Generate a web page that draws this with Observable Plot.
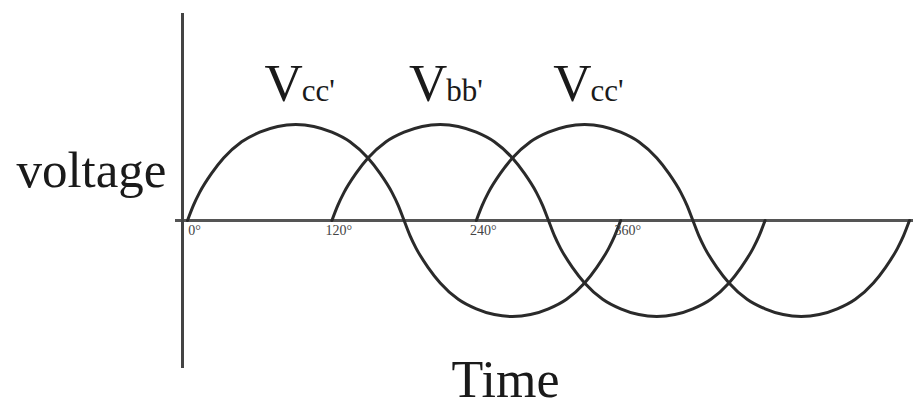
<!DOCTYPE html>
<html><head><meta charset="utf-8">
<script src="https://cdn.jsdelivr.net/npm/d3@7"></script>
<script src="https://cdn.jsdelivr.net/npm/@observablehq/plot@0.6"></script>
<style>html,body{margin:0;padding:0;background:#fff} svg{display:block}</style>
</head><body><div id="chart"></div>
<script>
// Data
const phases = [0, 120, 240];                 // start angle of each wave (degrees)
const waveLetter = "V";
const waveSubs = ["cc'", "bb'", "cc'"];       // label of each wave
const tickValues = [0, 120, 240, 360];
const tickLabels = ["0°", "120°", "240°", "360°"];
// shape of one cycle (offset in degrees -> normalized voltage)
const shapeOffsets = [0,5,10,20,30,45,60,75,90,105,120,135,150,160,170,175,180,185,190,200,210,225,240,255,270,285,300,315,330,340,350,355,360];
const shapeValues  = [0,0.16,0.29,0.49,0.65,0.82,0.92,0.98,1,0.98,0.92,0.82,0.65,0.49,0.29,0.16,0,-0.16,-0.29,-0.49,-0.65,-0.82,-0.92,-0.98,-1,-0.98,-0.92,-0.82,-0.65,-0.49,-0.29,-0.16,0];
const xDomain = [0, 600];
const yDomain = [-1, 1];
const xLabel = "Time";
const yLabel = "voltage";

const waves = phases.flatMap((p, i) => shapeOffsets.map((o, j) => ({wave: i, x: p + o, y: shapeValues[j]})));
const peakIdx = shapeValues.indexOf(d3.max(shapeValues));
const labels = phases.map((p, i) => ({x: p + shapeOffsets[peakIdx], y: shapeValues[peakIdx], sub: waveSubs[i]}));
const ticks = tickValues.map((v, i) => ({x: v, y: 0, t: tickLabels[i]}));

const serif = "'Liberation Serif', 'DejaVu Serif', serif";
const plot = Plot.plot({
  width: 915, height: 409,
  marginLeft: 187, marginRight: 6, marginTop: 13, marginBottom: 41,
  style: {background: "#fff"},
  x: {domain: xDomain, axis: null},
  y: {domain: yDomain, range: [316, 124], axis: null},
  marks: [
    Plot.ruleY([0], {stroke: "#555", strokeWidth: 3, insetLeft: -12, insetRight: -4}),
    Plot.ruleX([0], {stroke: "#444", strokeWidth: 3, dx: -5}),
    Plot.line(waves, {x: "x", y: "y", z: "wave", stroke: "#2a2a2a", strokeWidth: 3, curve: "monotone-x"}),
    Plot.text(ticks, {x: "x", y: "y", text: "t", textAnchor: "middle", lineAnchor: "top", dx: 7, dy: 5, fontSize: 14, fontFamily: serif, fill: "#444"}),
    Plot.text(labels, {x: "x", y: "y", text: () => waveLetter, textAnchor: "end", lineAnchor: "bottom", dx: 7, dy: -24, fontSize: 53, fontFamily: serif, fill: "#1a1a1a"}),
    Plot.text(labels, {x: "x", y: "y", text: "sub", textAnchor: "start", lineAnchor: "bottom", dx: 6, dy: -24, fontSize: 31, fontFamily: serif, fill: "#1a1a1a"}),
    Plot.text([yLabel], {frameAnchor: "left", text: d => d, textAnchor: "end", lineAnchor: "bottom", dx: -21, dy: -4, fontSize: 51, fontFamily: serif, fill: "#1a1a1a"}),
    Plot.text([xLabel], {frameAnchor: "bottom", text: d => d, textAnchor: "middle", lineAnchor: "bottom", dx: -43, dy: 28, fontSize: 52, fontFamily: serif, fill: "#1a1a1a"})
  ]
});
document.getElementById("chart").append(plot);
</script>
</body></html>
